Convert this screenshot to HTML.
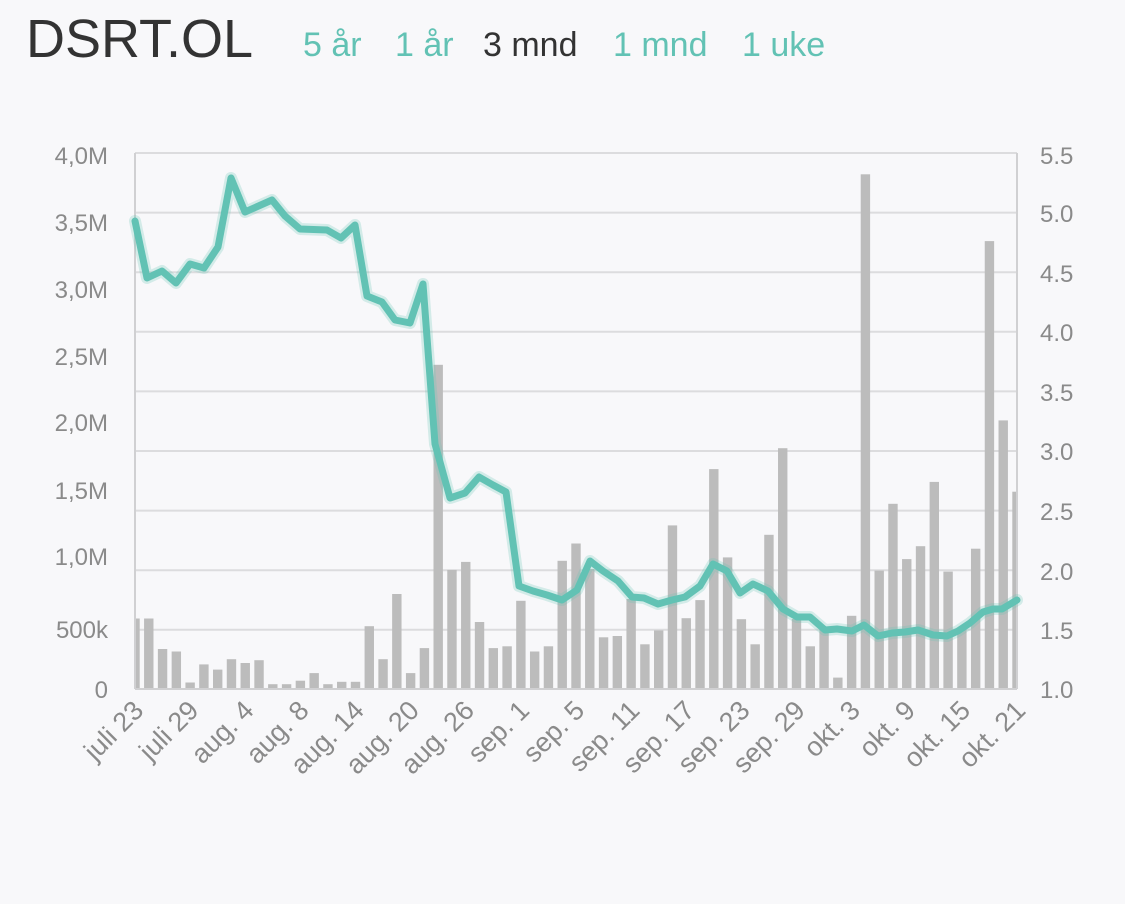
<!DOCTYPE html>
<html><head><meta charset="utf-8"><style>
html,body{margin:0;padding:0;background:#f8f8fa;}
svg{display:block;font-family:"Liberation Sans",sans-serif;}
</style></head><body>
<svg width="1125" height="904" viewBox="0 0 1125 904" xmlns="http://www.w3.org/2000/svg">
<rect width="1125" height="904" fill="#f8f8fa"/>
<text x="26" y="57" font-size="54" fill="#333">DSRT.OL</text>
<g font-size="34" fill="#62c2b4">
<text x="303" y="56">5 år</text>
<text x="395" y="56">1 år</text>
<text x="483" y="56" fill="#333">3 mnd</text>
<text x="613" y="56">1 mnd</text>
<text x="742" y="56">1 uke</text>
</g>
<g stroke="#dcdcde" stroke-width="2">
<line x1="135" x2="1017" y1="153" y2="153"/><line x1="135" x2="1017" y1="212.6" y2="212.6"/>
<line x1="135" x2="1017" y1="272.2" y2="272.2"/><line x1="135" x2="1017" y1="331.8" y2="331.8"/>
<line x1="135" x2="1017" y1="391.4" y2="391.4"/><line x1="135" x2="1017" y1="451" y2="451"/>
<line x1="135" x2="1017" y1="510.6" y2="510.6"/><line x1="135" x2="1017" y1="570.2" y2="570.2"/>
<line x1="135" x2="1017" y1="629.8" y2="629.8"/>
</g>
<g fill="#bcbcbc">
<rect x="135" width="4.7" y="618.5" height="70.5"/>
<rect x="144.08" width="9.4" y="618.5" height="70.5"/>
<rect x="157.86" width="9.4" y="649" height="40"/>
<rect x="171.64" width="9.4" y="651.5" height="37.5"/>
<rect x="185.43" width="9.4" y="682.5" height="6.5"/>
<rect x="199.21" width="9.4" y="664.4" height="24.6"/>
<rect x="212.99" width="9.4" y="669.6" height="19.4"/>
<rect x="226.77" width="9.4" y="659.2" height="29.8"/>
<rect x="240.55" width="9.4" y="663" height="26"/>
<rect x="254.33" width="9.4" y="660.2" height="28.8"/>
<rect x="268.11" width="9.4" y="684.2" height="4.8"/>
<rect x="281.89" width="9.4" y="684.2" height="4.8"/>
<rect x="295.68" width="9.4" y="680.7" height="8.3"/>
<rect x="309.46" width="9.4" y="673.1" height="15.9"/>
<rect x="323.24" width="9.4" y="684.2" height="4.8"/>
<rect x="337.02" width="9.4" y="681.8" height="7.2"/>
<rect x="350.8" width="9.4" y="681.8" height="7.2"/>
<rect x="364.58" width="9.4" y="626.2" height="62.8"/>
<rect x="378.36" width="9.4" y="659.2" height="29.8"/>
<rect x="392.14" width="9.4" y="594" height="95"/>
<rect x="405.93" width="9.4" y="673.1" height="15.9"/>
<rect x="419.71" width="9.4" y="648.1" height="40.9"/>
<rect x="433.49" width="9.4" y="364.8" height="324.2"/>
<rect x="447.27" width="9.4" y="569.9" height="119.1"/>
<rect x="461.05" width="9.4" y="561.9" height="127.1"/>
<rect x="474.83" width="9.4" y="622" height="67"/>
<rect x="488.61" width="9.4" y="648.1" height="40.9"/>
<rect x="502.39" width="9.4" y="646.3" height="42.7"/>
<rect x="516.18" width="9.4" y="600.8" height="88.2"/>
<rect x="529.96" width="9.4" y="651.5" height="37.5"/>
<rect x="543.74" width="9.4" y="646.3" height="42.7"/>
<rect x="557.52" width="9.4" y="560.8" height="128.2"/>
<rect x="571.3" width="9.4" y="543.5" height="145.5"/>
<rect x="585.08" width="9.4" y="569" height="120"/>
<rect x="598.86" width="9.4" y="637.3" height="51.7"/>
<rect x="612.64" width="9.4" y="636" height="53"/>
<rect x="626.43" width="9.4" y="599" height="90"/>
<rect x="640.21" width="9.4" y="644.3" height="44.7"/>
<rect x="653.99" width="9.4" y="630.4" height="58.6"/>
<rect x="667.77" width="9.4" y="525.4" height="163.6"/>
<rect x="681.55" width="9.4" y="618.2" height="70.8"/>
<rect x="695.33" width="9.4" y="600.1" height="88.9"/>
<rect x="709.11" width="9.4" y="469.1" height="219.9"/>
<rect x="722.89" width="9.4" y="557.4" height="131.6"/>
<rect x="736.68" width="9.4" y="619.2" height="69.8"/>
<rect x="750.46" width="9.4" y="644.3" height="44.7"/>
<rect x="764.24" width="9.4" y="534.8" height="154.2"/>
<rect x="778.02" width="9.4" y="448.2" height="240.8"/>
<rect x="791.8" width="9.4" y="619" height="70"/>
<rect x="805.58" width="9.4" y="646.3" height="42.7"/>
<rect x="819.36" width="9.4" y="630" height="59"/>
<rect x="833.14" width="9.4" y="677.6" height="11.4"/>
<rect x="846.93" width="9.4" y="615.8" height="73.2"/>
<rect x="860.71" width="9.4" y="174.3" height="514.7"/>
<rect x="874.49" width="9.4" y="570.6" height="118.4"/>
<rect x="888.27" width="9.4" y="503.8" height="185.2"/>
<rect x="902.05" width="9.4" y="559.1" height="129.9"/>
<rect x="915.83" width="9.4" y="546.2" height="142.8"/>
<rect x="929.61" width="9.4" y="481.9" height="207.1"/>
<rect x="943.39" width="9.4" y="571.6" height="117.4"/>
<rect x="957.18" width="9.4" y="629" height="60"/>
<rect x="970.96" width="9.4" y="548.7" height="140.3"/>
<rect x="984.74" width="9.4" y="241.1" height="447.9"/>
<rect x="998.52" width="9.4" y="420.4" height="268.6"/>
<rect x="1012.3" width="3.7" y="491.7" height="197.3"/>
</g>
<line x1="135" x2="1017" y1="689" y2="689" stroke="#d0d0d2" stroke-width="2"/>
<line x1="135" x2="135" y1="153" y2="689" stroke="#d0d0d2" stroke-width="2"/>
<line x1="1017" x2="1017" y1="153" y2="689" stroke="#d0d0d2" stroke-width="2"/>
<polyline fill="none" stroke="#62c2b4" stroke-opacity="0.25" stroke-width="12" stroke-linejoin="round" stroke-linecap="round" points="135,221 147,278 162,271 176,283 190,264 204,268 218,247 231,178 245,212 272,200 285,216 300,229 327,230 341,238 355,225 367,296 382,302 395,320 410,323 423,284 435,444 450,498 465,493 479,477 493,485 506,492 519,586 533,591 547,595 562,600 577,590 590,561 603,571 618,581 632,597 644,598 658,604 672,600 685,597 700,586 713,564 727,571 740,593 753,584 768,591 783,609 797,617 810,617 825,630 837,629 852,631 864,625 878,636 892,633 905,632 918,630 933,635 947,636 958,631 970,623 983,612 993,609 1002,609 1017,600"/>
<polyline fill="none" stroke="#62c2b4" stroke-width="7" stroke-linejoin="round" stroke-linecap="round" points="135,221 147,278 162,271 176,283 190,264 204,268 218,247 231,178 245,212 272,200 285,216 300,229 327,230 341,238 355,225 367,296 382,302 395,320 410,323 423,284 435,444 450,498 465,493 479,477 493,485 506,492 519,586 533,591 547,595 562,600 577,590 590,561 603,571 618,581 632,597 644,598 658,604 672,600 685,597 700,586 713,564 727,571 740,593 753,584 768,591 783,609 797,617 810,617 825,630 837,629 852,631 864,625 878,636 892,633 905,632 918,630 933,635 947,636 958,631 970,623 983,612 993,609 1002,609 1017,600"/>
<g font-size="24" fill="#8a8a8a" text-anchor="end">
<text x="108" y="164">4,0M</text><text x="108" y="231">3,5M</text><text x="108" y="298">3,0M</text>
<text x="108" y="365">2,5M</text><text x="108" y="431">2,0M</text><text x="108" y="499">1,5M</text>
<text x="108" y="565">1,0M</text><text x="108" y="638">500k</text><text x="108" y="698">0</text>
</g>
<g font-size="24" fill="#8a8a8a">
<text x="1040" y="164">5.5</text><text x="1040" y="222">5.0</text><text x="1040" y="282">4.5</text>
<text x="1040" y="341">4.0</text><text x="1040" y="401">3.5</text><text x="1040" y="460">3.0</text>
<text x="1040" y="520">2.5</text><text x="1040" y="580">2.0</text><text x="1040" y="639">1.5</text>
<text x="1040" y="698">1.0</text>
</g>
<g font-size="27" fill="#8a8a8a" text-anchor="end">
<text x="145" y="712" transform="rotate(-45 145 712)">juli 23</text>
<text x="200.1" y="712" transform="rotate(-45 200.1 712)">juli 29</text>
<text x="255.3" y="712" transform="rotate(-45 255.3 712)">aug. 4</text>
<text x="310.4" y="712" transform="rotate(-45 310.4 712)">aug. 8</text>
<text x="365.5" y="712" transform="rotate(-45 365.5 712)">aug. 14</text>
<text x="420.6" y="712" transform="rotate(-45 420.6 712)">aug. 20</text>
<text x="475.8" y="712" transform="rotate(-45 475.8 712)">aug. 26</text>
<text x="530.9" y="712" transform="rotate(-45 530.9 712)">sep. 1</text>
<text x="586" y="712" transform="rotate(-45 586 712)">sep. 5</text>
<text x="641.1" y="712" transform="rotate(-45 641.1 712)">sep. 11</text>
<text x="696.3" y="712" transform="rotate(-45 696.3 712)">sep. 17</text>
<text x="751.4" y="712" transform="rotate(-45 751.4 712)">sep. 23</text>
<text x="806.5" y="712" transform="rotate(-45 806.5 712)">sep. 29</text>
<text x="861.6" y="712" transform="rotate(-45 861.6 712)">okt. 3</text>
<text x="916.8" y="712" transform="rotate(-45 916.8 712)">okt. 9</text>
<text x="971.9" y="712" transform="rotate(-45 971.9 712)">okt. 15</text>
<text x="1027" y="712" transform="rotate(-45 1027 712)">okt. 21</text>
</g>
</svg>
</body></html>
